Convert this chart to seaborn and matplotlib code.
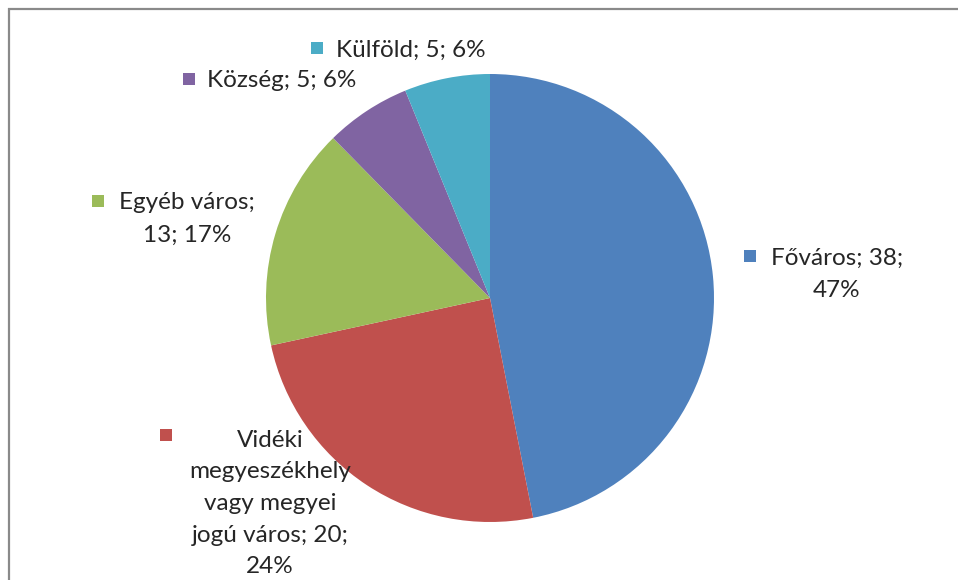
import matplotlib
matplotlib.use("Agg")
import matplotlib.pyplot as plt
import seaborn as sns

# data
categories = ["Főváros", "Vidéki megyeszékhely vagy megyei jogú város", "Egyéb város", "Község", "Külföld"]
values = [38, 20, 13, 5, 5]
label_texts = [
    "Főváros; 38;\n47%",
    "Vidéki\nmegyeszékhely\nvagy megyei\njogú város; 20;\n24%",
    "Egyéb város;\n13; 17%",
    "Község; 5; 6%",
    "Külföld; 5; 6%",
]
colors = sns.color_palette(["#4F81BD", "#C0504D", "#9BBB59", "#8064A2", "#4BACC6"])

# label layout in pixels: (text centre x, first baseline y, line step, marker x, marker y)
label_pos = [
    (837, 265, 32, 750, 256),
    (270, 447, 31.5, 166, 435),
    (187, 209, 33, 98, 201),
    (282, 87, 32, 189, 79),
    (411, 57, 32, 317, 48),
]

sns.set_theme(style="white")
plt.rcParams["font.family"] = ["Lato", "DejaVu Sans"]

W, H = 958, 580
fig = plt.figure(figsize=(W / 100, H / 100), dpi=100)
fig.patch.set_facecolor("white")

# pie axes: centre (490, 298), radius 224 px
cx, cy, r = 490, 298, 224
ax = fig.add_axes([(cx - r) / W, (H - cy - r) / H, 2 * r / W, 2 * r / H])
ax.pie(values, colors=colors, startangle=90, counterclock=False, radius=1,
       wedgeprops=dict(linewidth=0))
ax.set_xlim(-1, 1)
ax.set_ylim(-1, 1)
ax.set_axis_off()

# overlay in pixel coordinates for frame and labels
ov = fig.add_axes([0, 0, 1, 1])
ov.set_xlim(0, W)
ov.set_ylim(H, 0)
ov.patch.set_visible(False)
ov.set_axis_off()

ov.plot([8, W], [8.5, 8.5], color="#8a8a8a", linewidth=1.6, solid_capstyle="butt")
ov.plot([9, 9], [8, H], color="#8a8a8a", linewidth=1.6, solid_capstyle="butt")

for text, col, (tx, ty, step, mx, my) in zip(label_texts, colors, label_pos):
    for i, line in enumerate(text.split("\n")):
        ov.text(tx, ty + i * step, line, ha="center", va="baseline",
                fontsize=17.5, color="#262626")
    ov.scatter([mx], [my], marker="s", s=85, color=col, linewidths=0)

fig.savefig("out.png", dpi=100)
